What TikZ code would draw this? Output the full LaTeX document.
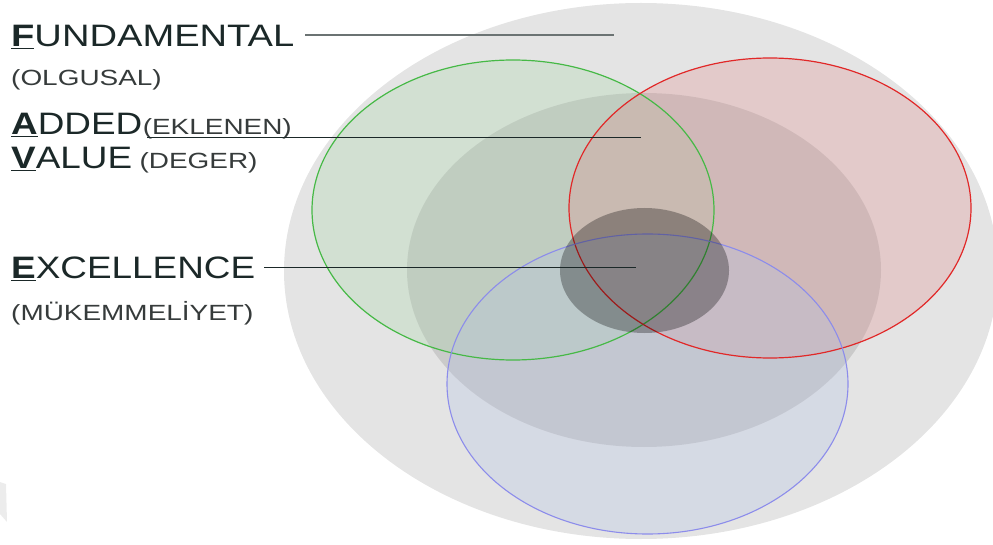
\documentclass[tikz,border=0pt]{standalone}
\usepackage{fontspec}
\setmainfont[FakeStretch=1.19]{Liberation Sans}
\newfontfamily\subfam[FakeStretch=1.27]{Liberation Sans}
\newfontfamily\fundfam[FakeStretch=1.23]{Liberation Sans}
\definecolor{bigg}{RGB}{228,228,228}
\definecolor{artc}{RGB}{236,236,236}
\definecolor{txtc}{HTML}{1B2828}
\definecolor{subc}{HTML}{363B3B}
\definecolor{glinec}{RGB}{107,115,115}
\definecolor{gfill}{RGB}{171,215,171}
\definecolor{rfill}{RGB}{225,145,145}
\definecolor{bfill}{RGB}{181,195,228}
\definecolor{gline}{RGB}{70,185,70}
\definecolor{rline}{RGB}{225,40,40}
\definecolor{bline}{RGB}{140,140,235}
\newcommand\firstlet[1]{\underline{\textbf{#1}}}
\tikzset{
  maintext/.style={font=\fontsize{31}{36}\selectfont, text=txtc, inner sep=0pt, anchor=base west},
  subtext/.style={font=\subfam\fontsize{22}{26}\selectfont, text=subc, inner sep=0pt, anchor=base west},
  grayline/.style={draw=glinec, line width=1.3pt},
  darkline/.style={draw=txtc, line width=1pt},
}
\begin{document}
\begin{tikzpicture}[x=1pt,y=-1pt]
\useasboundingbox (0,0) rectangle (993,545);
\clip (0,0) rectangle (993,545);
% faint edge artifact
\fill[artc] (0,482) -- (6,484) -- (7,522) -- (0,514) -- cycle;
% gray ellipses
\fill[bigg] (641,271) ellipse [x radius=357, y radius=268];
\fill[black, fill opacity=0.11] (644,270) ellipse [x radius=237, y radius=177];
% coloured ellipses
\fill[gfill, fill opacity=0.3] (513,210) ellipse [x radius=201, y radius=150];
\fill[rfill, fill opacity=0.3] (770,208) ellipse [x radius=201, y radius=150];
\fill[bfill, fill opacity=0.3] (647.5,384) ellipse [x radius=200.5, y radius=150];
\draw[gline, line width=1.2pt] (513,210) ellipse [x radius=201, y radius=150];
\draw[rline, line width=1.2pt] (770,208) ellipse [x radius=201, y radius=150];
\draw[bline, line width=1.1pt] (647.5,384) ellipse [x radius=200.5, y radius=150];
% small dark core
\fill[black, fill opacity=0.3] (644.5,270.5) ellipse [x radius=84.5, y radius=62.5];
% texts
\node[maintext, font=\fundfam\fontsize{31}{36}\selectfont] (fund) at (11,47) {\firstlet{F}UNDAMENTAL};
\node[subtext] (olg) at (11,86) {(OLGUSAL)};
\node[maintext] (added) at (11,135) {\firstlet{A}DDED};
\node[subtext, xshift=0pt] (ekl) at (added.base east) {(EKLENEN)};
\node[maintext] (value) at (11,169) {\firstlet{V}ALUE};
\node[subtext, xshift=7pt] (deger) at (value.base east) {(DEGER)};
\node[maintext] (exc) at (11,279) {\firstlet{E}XCELLENCE};
\node[subtext] (muk) at (11,320) {(MÜKEMMELİYET)};
% connectors
\coordinate (fs) at (305,35);
\coordinate (fe) at (614,35);
\coordinate (as) at (147,138);
\coordinate (ae) at (641,138);
\coordinate (es) at (264,268);
\coordinate (ee) at (636,268);
\draw[grayline] (fs) -- (fe);
\draw[darkline] (as) -- (ae);
\draw[darkline] (es) -- (ee);
\end{tikzpicture}
\end{document}
